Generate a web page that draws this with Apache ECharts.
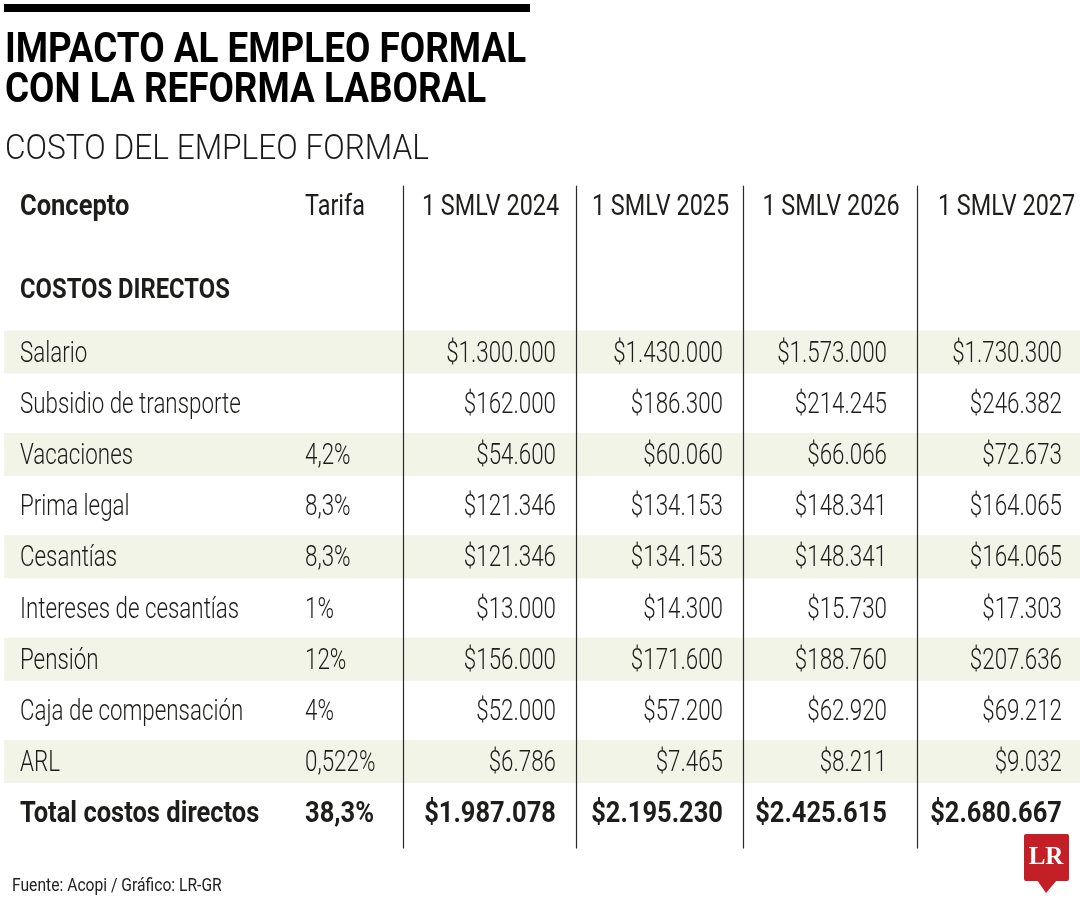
<!DOCTYPE html>
<html>
<head>
<meta charset="utf-8">
<title>Impacto al empleo formal</title>
<script src="https://cdn.jsdelivr.net/npm/echarts@6/dist/echarts.min.js"></script>
<style>
  html, body { margin: 0; padding: 0; background: #fff; }
  #chart { width: 1080px; height: 900px; }
</style>
</head>
<body>
<div id="chart"></div>
<script>
// datos (Acopi)
const conceptos = ['Salario', 'Subsidio de transporte', 'Vacaciones', 'Prima legal', 'Cesantías',
  'Intereses de cesantías', 'Pensión', 'Caja de compensación', 'ARL', 'Total costos directos']
const tarifas = ['', '', '4,2%', '8,3%', '8,3%', '1%', '12%', '4%', '0,522%', '38,3%']
const columnas = ['1 SMLV 2024', '1 SMLV 2025', '1 SMLV 2026', '1 SMLV 2027']
const smlv2024 = [1300000, 162000, 54600, 121346, 121346, 13000, 156000, 52000, 6786, 1987078]
const smlv2025 = [1430000, 186300, 60060, 134153, 134153, 14300, 171600, 57200, 7465, 2195230]
const smlv2026 = [1573000, 214245, 66066, 148341, 148341, 15730, 188760, 62920, 8211, 2425615]
const smlv2027 = [1730300, 246382, 72673, 164065, 164065, 17303, 207636, 69212, 9032, 2680667]
const valores = [smlv2024, smlv2025, smlv2026, smlv2027]

// layout / estilos
const FONT = 'Roboto, "Noto Sans", sans-serif'
const INK = '#1d1d1b'
const BAND = '#f2f4e8'
const TOP = 186
const BOTTOM = 52
const EDGES = [403, 576, 743, 917, 1080]
const PADS = [20, 20, 30, 18]
const Y_MIN = -3.262
const Y_MAX = 9.668
const LAST = conceptos.length - 1
// la fuente original es condensada: se comprime en horizontal
const SX_BODY = 0.745
const SX_BOLD = 0.85
const SX_HEAD = 0.78

const money = v => '$' + String(v).replace(/\B(?=(\d{3})+(?!\d))/g, '.')

const chart = echarts.init(document.getElementById('chart'))

const grids = [
  { left: 4, right: 0, top: TOP, bottom: BOTTOM },        // bandas
  { left: 0, width: 300, top: TOP, bottom: BOTTOM },      // concepto
  { left: 300, width: EDGES[0] - 300, top: TOP, bottom: BOTTOM } // tarifa
]
columnas.forEach((c, i) => {
  grids.push({ left: EDGES[i], width: EDGES[i + 1] - EDGES[i], top: TOP, bottom: BOTTOM })
})

const xAxes = grids.map((g, i) => ({ gridIndex: i, type: 'value', min: 0, max: 1, show: false }))

const yAxes = grids.map((g, i) => ({
  gridIndex: i,
  type: 'value',
  inverse: true,
  min: Y_MIN,
  max: Y_MAX,
  z: 3,
  axisLine: { show: i >= 3, lineStyle: { color: '#2a2a2a', width: 1.2 } },
  axisTick: { show: false },
  axisLabel: { show: false },
  splitLine: { show: false }
}))

// columna de texto: encabezado + una celda por fila
const textSeries = (gridIndex, header, texts, opts) => ({
  type: 'custom',
  xAxisIndex: gridIndex,
  yAxisIndex: gridIndex,
  z: 4,
  silent: true,
  data: texts.map((t, i) => [0, i]),
  renderItem (params, api) {
    const row = api.value(1)
    const p = api.coord([0, row])
    const cs = params.coordSys
    const bold = row === LAST
    const right = opts.align === 'right'
    const children = [{
      type: 'text',
      x: right ? cs.x + cs.width - opts.pad : cs.x + opts.pad,
      y: p[1] + 1,
      scaleX: bold ? SX_BOLD : SX_BODY,
      style: {
        text: texts[params.dataIndex],
        fill: INK,
        font: (bold ? 'bold 30px ' : '300 30px ') + FONT,
        align: right ? 'right' : 'left',
        verticalAlign: 'middle'
      }
    }]
    if (params.dataIndex === 0) {
      const centred = opts.headAlign === 'center'
      children.push({
        type: 'text',
        x: centred ? cs.x + cs.width / 2 + (opts.headShift || 0) : cs.x + opts.pad,
        y: cs.y + 21,
        scaleX: opts.headBold ? SX_BOLD : SX_HEAD,
        style: {
          text: header,
          fill: INK,
          font: (opts.headBold ? 'bold 30px ' : '30px ') + FONT,
          align: centred ? 'center' : 'left',
          verticalAlign: 'middle'
        }
      })
    }
    return { type: 'group', children: children }
  }
})

const series = [{
  type: 'custom',
  xAxisIndex: 0,
  yAxisIndex: 0,
  z: 1,
  silent: true,
  data: conceptos.map((c, i) => [0, i]).filter(d => d[1] % 2 === 0 && d[1] < LAST),
  renderItem (params, api) {
    const p = api.coord([0, api.value(1)])
    const h = api.size([0, 1])[1] * 0.84
    const cs = params.coordSys
    return {
      type: 'rect',
      shape: { x: cs.x, y: p[1] - h / 2 - 1, width: cs.width, height: h },
      style: { fill: BAND }
    }
  }
}]
series.push(textSeries(1, 'Concepto', conceptos, { align: 'left', pad: 20, headAlign: 'left', headBold: true }))
series.push(textSeries(2, 'Tarifa', tarifas, { align: 'left', pad: 5, headAlign: 'left' }))
valores.forEach((v, i) => {
  series.push(textSeries(i + 3, columnas[i], v.map(money),
    { align: 'right', pad: PADS[i], headAlign: 'center', headShift: i === 3 ? 8 : 1 }))
})

const label = (text, x, y, font, sx, color) => ({
  type: 'text',
  x: x,
  y: y,
  scaleX: sx,
  silent: true,
  style: { text: text, font: font, fill: color || INK, align: 'left', verticalAlign: 'middle' }
})

chart.setOption({
  backgroundColor: '#fff',
  animation: false,
  grid: grids,
  xAxis: xAxes,
  yAxis: yAxes,
  series: series,
  graphic: [
    { type: 'rect', shape: { x: 4, y: 4, width: 526, height: 8 }, style: { fill: '#000' } },
    label('IMPACTO AL EMPLEO FORMAL', 5, 51, 'bold 43px ' + FONT, 0.857, '#000'),
    label('CON LA REFORMA LABORAL', 5, 91, 'bold 43px ' + FONT, 0.857, '#000'),
    label('COSTO DEL EMPLEO FORMAL', 5, 150.5, '300 35px ' + FONT, 0.905, '#1a1a1a'),
    label('COSTOS DIRECTOS', 20, 291, 'bold 28px ' + FONT, 0.85),
    label('Fuente: Acopi / Gráfico: LR-GR', 12, 886, '18px ' + FONT, 0.87, '#222'),
    {
      type: 'group',
      children: [{
        type: 'rect',
        shape: { x: 1024, y: 834, width: 45, height: 47, r: 2 },
        style: { fill: '#c41e26' }
      }, {
        type: 'polygon',
        shape: { points: [[1037, 880], [1057, 880], [1046, 893]] },
        style: { fill: '#c41e26' }
      }, {
        type: 'text',
        x: 1046,
        y: 858,
        style: {
          text: 'LR',
          fill: '#fff',
          font: 'bold 25px "Liberation Serif", "DejaVu Serif", serif',
          align: 'center',
          verticalAlign: 'middle'
        }
      }]
    }
  ]
})
</script>
</body>
</html>
